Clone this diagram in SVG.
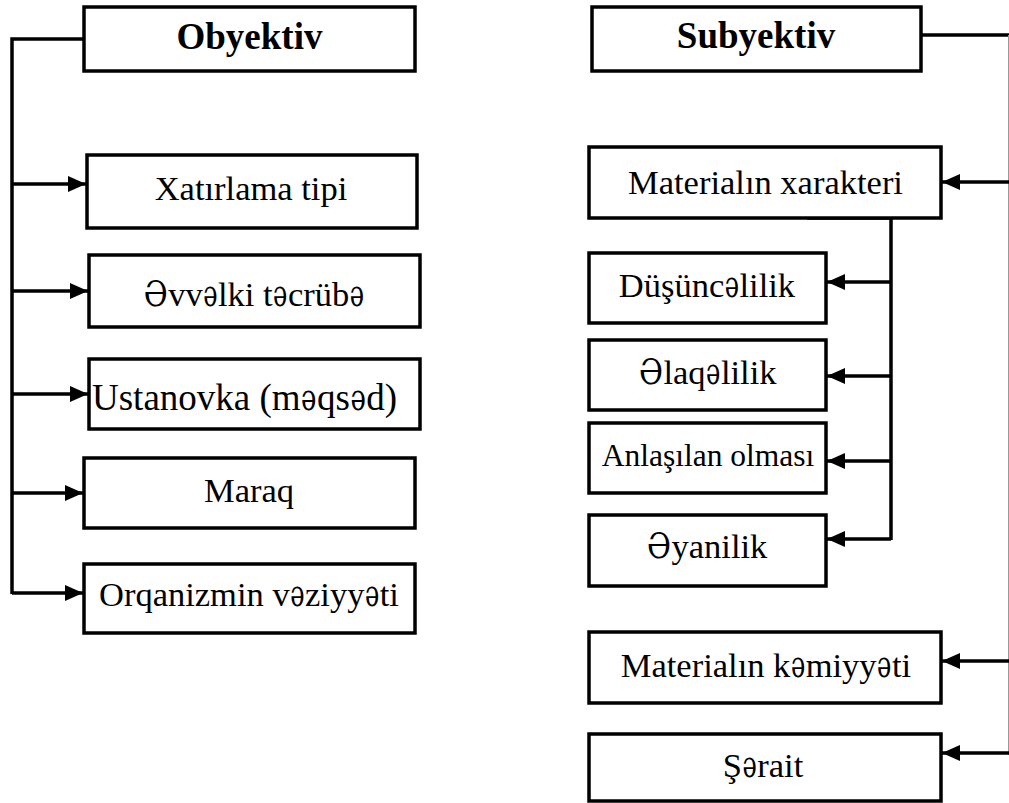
<svg xmlns="http://www.w3.org/2000/svg" width="1009" height="803" viewBox="0 0 1009 803">
<style>
.box{fill:#fff;stroke:#000;stroke-width:3.5}
.t{font-family:"Liberation Serif","Times New Roman",serif;font-size:34.5px;fill:#000;text-anchor:middle}
.b{font-weight:bold;font-size:37px}
.s{font-size:31.5px}
.l{font-family:"Liberation Serif","Times New Roman",serif;font-size:34.5px;fill:#000;text-anchor:start}
.e{font-family:"DejaVu Serif","Liberation Serif",serif;font-size:34.5px;fill:#000;text-anchor:start}
.u{font-size:37px}
.c{fill:none;stroke:#000;stroke-width:3.5}
.g{fill:none;stroke:#999;stroke-width:1}
</style>
<defs>
<marker id="ah" markerUnits="userSpaceOnUse" markerWidth="18" markerHeight="16" refX="18" refY="8" orient="auto" viewBox="0 0 18 16">
<path d="M0,0 L18,8 L0,16 z" fill="#000"/>
</marker>
</defs>
<rect width="1009" height="803" fill="#fff"/>
<g id="connectors">
<path class="c" d="M84,39 H12 V594"/>
<path class="c" d="M12,184 H86" marker-end="url(#ah)"/>
<path class="c" d="M12,291 H88" marker-end="url(#ah)"/>
<path class="c" d="M12,394 H88" marker-end="url(#ah)"/>
<path class="c" d="M12,493 H83" marker-end="url(#ah)"/>
<path class="c" d="M12,593 H83" marker-end="url(#ah)"/>
<path class="c" d="M921,35 H1009"/>
<path class="g" d="M1008.5,35 V755"/>
<path class="c" d="M1009,182 H942" marker-end="url(#ah)"/>
<path class="c" d="M1009,661 H942" marker-end="url(#ah)"/>
<path class="c" d="M1009,753 H942" marker-end="url(#ah)"/>
<path class="c" d="M807,218 H891 V540"/>
<path class="c" d="M891,282 H827" marker-end="url(#ah)"/>
<path class="c" d="M891,376 H827" marker-end="url(#ah)"/>
<path class="c" d="M891,461 H827" marker-end="url(#ah)"/>
<path class="c" d="M891,539 H827" marker-end="url(#ah)"/>
</g>
<g id="obyektiv"><rect class="box" x="84" y="7" width="331" height="64"/><text class="t b" x="249.5" y="49">Obyektiv</text></g>
<g id="xatirlama"><rect class="box" x="87" y="155" width="330" height="73"/><text class="t" x="251" y="200">Xatırlama tipi</text></g>
<g id="evvelki"><rect class="box" x="89" y="255" width="331" height="72"/>
<text class="e" x="143.8" y="306" textLength="23.9" lengthAdjust="spacingAndGlyphs">Ə</text>
<text class="l" x="168.2" y="306">vv</text>
<text class="e" x="203.2" y="306" textLength="14.3" lengthAdjust="spacingAndGlyphs">ə</text>
<text class="l" x="218.0" y="306">lki t</text>
<text class="e" x="273.1" y="306" textLength="14.3" lengthAdjust="spacingAndGlyphs">ə</text>
<text class="l" x="287.9" y="306">crüb</text>
<text class="e" x="349.7" y="306" textLength="14.3" lengthAdjust="spacingAndGlyphs">ə</text>
</g>
<g id="ustanovka"><rect class="box" x="89" y="359" width="331" height="70"/>
<text class="l u" x="92" y="410">Ustanovka (m</text>
<text class="e u" x="301.1" y="410" textLength="15.4" lengthAdjust="spacingAndGlyphs">ə</text>
<text class="l u" x="317.0" y="410">qs</text>
<text class="e u" x="350.4" y="410" textLength="15.4" lengthAdjust="spacingAndGlyphs">ə</text>
<text class="l u" x="366.3" y="410">d)</text>
</g>
<g id="maraq"><rect class="box" x="84" y="458" width="331" height="70"/><text class="t" x="249" y="502">Maraq</text></g>
<g id="orqanizm"><rect class="box" x="84" y="564" width="331" height="69"/>
<text class="l" x="99" y="606">Orqanizmin v</text>
<text class="e" x="290.2" y="606" textLength="14.3" lengthAdjust="spacingAndGlyphs">ə</text>
<text class="l" x="305.0" y="606">ziyy</text>
<text class="e" x="364.9" y="606" textLength="14.3" lengthAdjust="spacingAndGlyphs">ə</text>
<text class="l" x="379.7" y="606">ti</text>
</g>
<g id="subyektiv"><rect class="box" x="592" y="7" width="329" height="64"/><text class="t b" x="756" y="48">Subyektiv</text></g>
<g id="xarakter"><rect class="box" x="589" y="147" width="352" height="71"/><text class="t" x="765.5" y="194">Materialın xarakteri</text></g>
<g id="dusunce"><rect class="box" x="589" y="253" width="237" height="70"/>
<text class="l" x="618.8" y="297">Düşünc</text>
<text class="e" x="724.7" y="297" textLength="14.3" lengthAdjust="spacingAndGlyphs">ə</text>
<text class="l" x="739.5" y="297">lilik</text>
</g>
<g id="elaqe"><rect class="box" x="589" y="340" width="237" height="70"/>
<text class="e" x="639.0" y="384" textLength="23.9" lengthAdjust="spacingAndGlyphs">Ə</text>
<text class="l" x="663.4" y="384">laq</text>
<text class="e" x="706.1" y="384" textLength="14.3" lengthAdjust="spacingAndGlyphs">ə</text>
<text class="l" x="720.9" y="384">lilik</text>
</g>
<g id="anlasilan"><rect class="box" x="589" y="423" width="237" height="70"/><text class="t s" x="708" y="466">Anlaşılan olması</text></g>
<g id="eyanilik"><rect class="box" x="589" y="515" width="237" height="71"/>
<text class="e" x="647.1" y="558" textLength="23.9" lengthAdjust="spacingAndGlyphs">Ə</text>
<text class="l" x="671.5" y="558">yanilik</text>
</g>
<g id="kemiyyet"><rect class="box" x="589" y="632" width="352" height="71"/>
<text class="l" x="620.8" y="677">Materialın k</text>
<text class="e" x="790.9" y="677" textLength="14.3" lengthAdjust="spacingAndGlyphs">ə</text>
<text class="l" x="805.7" y="677">miyy</text>
<text class="e" x="877.1" y="677" textLength="14.3" lengthAdjust="spacingAndGlyphs">ə</text>
<text class="l" x="891.9" y="677">ti</text>
</g>
<g id="serait"><rect class="box" x="589" y="734" width="352" height="67"/>
<text class="l" x="722.8" y="777">Ş</text>
<text class="e" x="742.5" y="777" textLength="14.3" lengthAdjust="spacingAndGlyphs">ə</text>
<text class="l" x="757.3" y="777">rait</text>
</g>
</svg>
